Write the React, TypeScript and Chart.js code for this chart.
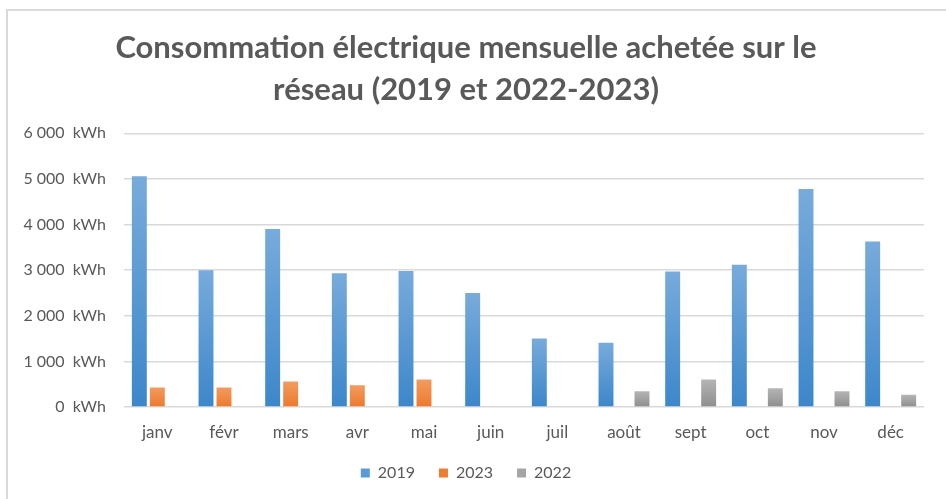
import React, { useEffect, useRef } from "react";
import { Chart, registerables } from "chart.js";

Chart.register(...registerables);

const months = ["janv", "févr", "mars", "avr", "mai", "juin", "juil", "août", "sept", "oct", "nov", "déc"];
const values2019 = [5060, 3000, 3900, 2930, 2980, 2500, 1500, 1410, 2970, 3120, 4780, 3630];
const values2023 = [430, 430, 560, 475, 605, null, null, null, null, null, null, null];
const values2022 = [null, null, null, null, null, null, null, 345, 605, 410, 345, 270];
const titleLines = ["Consommation électrique mensuelle achetée sur le", "réseau (2019 et 2022-2023)"];

const TEXT = "#595959";
const FONT = "Lato, 'Liberation Sans', sans-serif";

function barGradient(top: string, bottom: string) {
  return (ctx: any) => {
    const chart = ctx.chart;
    const y = chart.scales && chart.scales.y;
    if (!chart.chartArea || !y || ctx.raw == null) return bottom;
    const y0 = y.getPixelForValue(ctx.raw);
    const y1 = y.getPixelForValue(0);
    if (!isFinite(y0) || !isFinite(y1) || y0 === y1) return bottom;
    const g = chart.ctx.createLinearGradient(0, y0, 0, y1);
    g.addColorStop(0, top);
    g.addColorStop(1, bottom);
    return g;
  };
}

function fmt(v: number) {
  return String(v).replace(/\B(?=(\d{3})+(?!\d))/g, " ") + "  kWh";
}

export default function App() {
  const ref = useRef<HTMLCanvasElement>(null);
  useEffect(() => {
    if (!ref.current) return;
    const common = { categoryPercentage: 0.81, barPercentage: 0.83 };
    const chart = new Chart(ref.current, {
      type: "bar",
      data: {
        labels: months,
        datasets: [
          { label: "2019", data: values2019, backgroundColor: barGradient("#77abdb", "#3c87ca"), ...common },
          { label: "2023", data: values2023, backgroundColor: barGradient("#f39b5f", "#ec7a2c"), ...common },
          { label: "2022", data: values2022, backgroundColor: barGradient("#b5b5b5", "#8e8e8e"), ...common },
        ] as any,
      },
      options: {
        animation: false,
        responsive: false,
        maintainAspectRatio: false,
        layout: { padding: { left: 8, right: 22, top: 0, bottom: 8 } },
        plugins: {
          title: {
            display: true,
            text: titleLines,
            color: TEXT,
            font: { family: FONT, size: 31, weight: "bold", lineHeight: 1.36 },
            padding: { top: 27, bottom: 22 },
          },
          legend: {
            display: true,
            position: "bottom",
            labels: {
              boxWidth: 9,
              boxHeight: 9,
              color: TEXT,
              font: { family: FONT, size: 16 },
              padding: 24,
              generateLabels: (c: any) =>
                c.data.datasets.map((d: any, i: number) => ({
                  text: d.label,
                  fillStyle: ["#5b9bd5", "#ed7d31", "#a5a5a5"][i],
                  strokeStyle: "rgba(0,0,0,0)",
                  lineWidth: 0,
                  datasetIndex: i,
                  fontColor: TEXT,
                })),
            },
          },
          tooltip: { enabled: false },
        },
        scales: {
          x: {
            grid: { display: false, drawTicks: false },
            border: { display: false },
            ticks: { color: TEXT, font: { family: FONT, size: 17 }, padding: 15, maxRotation: 0 },
            afterFit: (s: any) => { s.height = 34; },
          },
          y: {
            min: 0,
            max: 6000,
            grid: { color: "#d9d9d9", lineWidth: 1.5, drawTicks: false },
            border: { display: false },
            ticks: {
              stepSize: 1000,
              color: TEXT,
              font: { family: FONT, size: 16 },
              padding: 18,
              callback: (v: any) => fmt(Number(v)),
            },
            afterFit: (s: any) => { s.width = 116; },
          },
        },
      } as any,
    });
    return () => chart.destroy();
  }, []);
  return (
    <div style={{ position: "fixed", left: 0, top: 0, width: 946, height: 499, overflow: "hidden", background: "#fff" }}>
      <div
        style={{
          position: "absolute",
          left: 6,
          top: 9,
          width: 1000,
          height: 600,
          borderLeft: "2px solid #d9d9d9",
          borderTop: "2px solid #d9d9d9",
        }}
      />
      <canvas ref={ref} width={946} height={499} style={{ position: "absolute", left: 0, top: 0, width: 946, height: 499 }} />
    </div>
  );
}
